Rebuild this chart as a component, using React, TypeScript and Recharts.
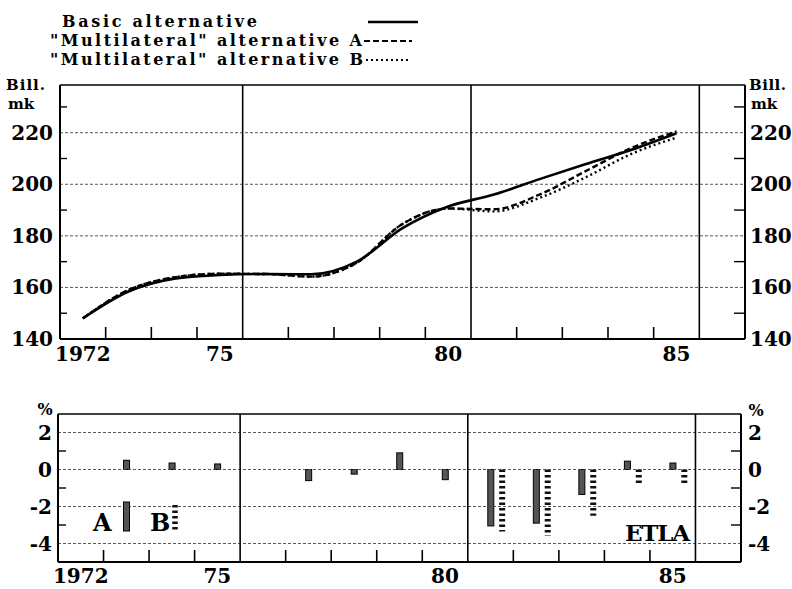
import React from 'react';
import { LineChart, Line, BarChart, Bar, XAxis, YAxis, ReferenceLine, Legend } from 'recharts';

// ---------- data ----------
const years = [1972, 1973, 1974, 1975, 1976, 1977, 1978, 1979, 1980, 1981, 1982, 1983, 1984, 1985];
const basicAlt = [148, 158.4, 163.4, 164.8, 165.2, 165.1, 170.0, 183.0, 191.4, 196.0, 202.0, 207.8, 213.3, 219.8];
const multiA = [148, 159.0, 163.9, 165.3, 165.2, 164.2, 169.6, 184.6, 190.6, 190.3, 196.0, 205.0, 214.0, 220.5];
const multiB = [148, 159.0, 163.9, 165.3, 165.2, 164.2, 169.6, 184.6, 190.6, 189.5, 194.7, 202.6, 211.7, 218.1];
const devA: (number | null)[] = [null, 0.5, 0.35, 0.3, null, -0.6, -0.25, 0.9, -0.55, -3.05, -2.9, -1.35, 0.45, 0.35];
const devB: (number | null)[] = [null, null, null, null, null, null, null, null, null, -3.35, -3.6, -2.5, -0.75, -0.75];

const seriesNames = ['Basic alternative', '"Multilateral" alternative A', '"Multilateral" alternative B'];
const xLabelYears = [1972, 1975, 1980, 1985];
const xLabelTexts = ['1972', '75', '80', '85'];
const yearBoundaries = [1972.5, 1973.5, 1974.5, 1976.5, 1977.5, 1978.5, 1979.5, 1981.5, 1982.5, 1983.5, 1984.5];
const dividers = [1975.5, 1980.5, 1985.5];
const xDomain = [1971.5, 1986.5];
const xDomainShiftB = [1971.25, 1986.25];
const levelTicks = [140, 160, 180, 200, 220];
const levelMinor = [150, 170, 190, 210, 230];
const levelGrid = [160, 180, 200, 220];
const levelDomain = [140, 238.5];
const devTicks = [-4, -2, 0, 2];
const devMinor = [-3, -1, 1];
const devGrid = [-4, -2, 0, 2];
const devDomain = [-5, 3];

const levelData = years.map((y, i) => ({ year: y, basic: basicAlt[i], a: multiA[i], b: multiB[i] }));
const devData = years.map((y, i) => ({ year: y, a: devA[i], b: devB[i] }));
const allXTicks = [...xLabelYears, ...yearBoundaries].sort((p, q) => p - q);

const FONT: React.CSSProperties = { fontFamily: '"DejaVu Serif", serif', fontWeight: 700 };

function makeXTick(labelOffset: number) {
  return (props: any) => {
    const { x, y, payload } = props;
    const idx = xLabelYears.indexOf(payload.value);
    if (idx >= 0) {
      return (
        <text x={x} y={y + labelOffset} textAnchor="middle" fontSize={20} fill="#000" style={FONT}>
          {xLabelTexts[idx]}
        </text>
      );
    }
    return <line x1={x} x2={x} y1={y} y2={y - 12} stroke="#000" strokeWidth={1.6} />;
  };
}

function makeYTick(side: 'left' | 'right', majors: number[], minorLen: number, gap: number) {
  return (props: any) => {
    const { x, y, payload } = props;
    const v = payload.value;
    if (majors.includes(v)) {
      return side === 'left' ? (
        <text x={x - gap} y={y + 7} textAnchor="end" fontSize={20} fill="#000" style={FONT}>{String(v)}</text>
      ) : (
        <text x={x + gap} y={y + 7} textAnchor="start" fontSize={20} fill="#000" style={FONT}>{String(v)}</text>
      );
    }
    return <line x1={x} x2={side === 'left' ? x + minorLen : x - minorLen} y1={y} y2={y} stroke="#000" strokeWidth={1.4} />;
  };
}

const BarAShape = (props: any) => {
  const { x, y, width, height, payload } = props;
  if (payload == null || payload.a == null) return <g />;
  const top = Math.min(y, y + height);
  return <rect x={x} y={top} width={width} height={Math.abs(height)} fill="#555" stroke="#000" strokeWidth={1} />;
};

const BarBShape = (props: any) => {
  const { x, y, width, height, payload } = props;
  if (payload == null || payload.b == null) return <g />;
  const cx = x + width / 2;
  return <line x1={cx} x2={cx} y1={y + height} y2={y} stroke="#111" strokeWidth={width} strokeDasharray="2.5 3" />;
};

const TopOverlay = () => (
  <svg width={792} height={375} style={{ position: 'absolute', left: 0, top: 0 }}>
    <g style={FONT} fill="#000">
      <text x={62} y={27} fontSize={16} textLength={195} lengthAdjust="spacing">{seriesNames[0]}</text>
      <text x={50} y={46} fontSize={16} textLength={312} lengthAdjust="spacing">{seriesNames[1]}</text>
      <text x={50} y={65} fontSize={16} textLength={313} lengthAdjust="spacing">{seriesNames[2]}</text>
      <text x={6} y={90} fontSize={15} letterSpacing={1}>Bill.</text>
      <text x={8} y={109} fontSize={15}>mk</text>
      <text x={749} y={90} fontSize={15} letterSpacing={0.5}>Bill.</text>
      <text x={751} y={109} fontSize={15}>mk</text>
    </g>
    <line x1={368} x2={418} y1={22} y2={22} stroke="#000" strokeWidth={2.5} />
    <line x1={364} x2={412} y1={41} y2={41} stroke="#000" strokeWidth={2.2} strokeDasharray="6 3" />
    <line x1={366} x2={410} y1={60} y2={60} stroke="#000" strokeWidth={2} strokeDasharray="2 3" />
  </svg>
);

const BottomOverlay = () => (
  <svg width={792} height={209} style={{ position: 'absolute', left: 0, top: 0 }}>
    <g style={FONT} fill="#000">
      <text x={45} y={35} fontSize={16} textAnchor="middle">%</text>
      <text x={756} y={36} fontSize={16} textAnchor="middle">%</text>
      <text x={93} y={151} fontSize={24}>A</text>
      <text x={150} y={151} fontSize={24}>B</text>
      <text x={625} y={161} fontSize={23} textLength={65} lengthAdjust="spacing">ETLA</text>
    </g>
    <rect x={123.5} y={122} width={6} height={29} fill="#555" stroke="#000" strokeWidth={1} />
    <line x1={175} x2={175} y1={125} y2={150} stroke="#111" strokeWidth={5.5} strokeDasharray="2.5 3" />
  </svg>
);

const gridStyle = { stroke: '#444', strokeWidth: 0.9, strokeDasharray: '3 2' };

export default function App() {
  return (
    <div style={{ position: 'absolute', left: 0, top: 0, width: 792, height: 589, background: '#fff' }}>
      <div style={{ position: 'absolute', left: 0, top: 0 }}>
        <LineChart width={792} height={375} data={levelData} margin={{ top: 85, right: 0, bottom: 6, left: 0 }}>
          <XAxis dataKey="year" type="number" domain={xDomain} ticks={allXTicks} interval={0}
            tickSize={0} tickMargin={0} height={30} axisLine={{ stroke: '#000', strokeWidth: 2 }}
            tick={makeXTick(22)} allowDataOverflow />
          <YAxis type="number" domain={levelDomain} ticks={[...levelTicks, ...levelMinor].sort((p, q) => p - q)}
            interval={0} width={60} tickSize={0} tickMargin={0} axisLine={{ stroke: '#000', strokeWidth: 2 }}
            tick={makeYTick('left', levelTicks, 7, 7)} allowDataOverflow />
          <YAxis yAxisId="r" orientation="right" type="number" domain={levelDomain}
            ticks={[...levelTicks, ...levelMinor].sort((p, q) => p - q)}
            interval={0} width={47} tickSize={0} tickMargin={0} axisLine={{ stroke: '#000', strokeWidth: 2 }}
            tick={makeYTick('right', levelTicks, 11, 5)} allowDataOverflow />
          {levelGrid.map((v) => (
            <ReferenceLine key={'g' + v} y={v} {...gridStyle} />
          ))}
          <ReferenceLine y={levelDomain[1]} stroke="#000" strokeWidth={1.4} />
          {dividers.map((d) => (
            <ReferenceLine key={'d' + d} x={d} stroke="#000" strokeWidth={1.6} />
          ))}
          <Line dataKey="b" name={seriesNames[2]} type="monotone" stroke="#000" strokeWidth={2.4}
            strokeDasharray="2 3" dot={false} isAnimationActive={false} />
          <Line dataKey="a" name={seriesNames[1]} type="monotone" stroke="#000" strokeWidth={2.4}
            strokeDasharray="6 3" dot={false} isAnimationActive={false} />
          <Line dataKey="basic" name={seriesNames[0]} type="monotone" stroke="#000" strokeWidth={2.6}
            dot={false} isAnimationActive={false} />
          <Legend layout="horizontal" verticalAlign="middle" align="center"
            wrapperStyle={{ position: 'absolute', left: 0, top: 0, width: 792, height: 375, pointerEvents: 'none' }}
            content={() => <TopOverlay />} />
        </LineChart>
      </div>
      <div style={{ position: 'absolute', left: 0, top: 380 }}>
        <BarChart width={792} height={209} data={devData} margin={{ top: 34, right: 0, bottom: 0, left: 0 }}>
          <XAxis dataKey="year" type="number" domain={xDomain} ticks={allXTicks} interval={0}
            tickSize={0} tickMargin={0} height={27} axisLine={{ stroke: '#000', strokeWidth: 2 }}
            tick={makeXTick(21)} allowDataOverflow />
          <XAxis xAxisId="shiftB" dataKey="year" type="number" domain={xDomainShiftB} hide allowDataOverflow />
          <YAxis type="number" domain={devDomain} ticks={[...devTicks, ...devMinor].sort((p, q) => p - q)}
            interval={0} width={58} tickSize={0} tickMargin={0} axisLine={{ stroke: '#000', strokeWidth: 2 }}
            tick={makeYTick('left', devTicks, 8, 6)} allowDataOverflow />
          <YAxis yAxisId="r" orientation="right" type="number" domain={devDomain}
            ticks={[...devTicks, ...devMinor].sort((p, q) => p - q)}
            interval={0} width={51} tickSize={0} tickMargin={0} axisLine={{ stroke: '#000', strokeWidth: 2 }}
            tick={makeYTick('right', devTicks, 10, 7)} allowDataOverflow />
          {devGrid.map((v) => (
            <ReferenceLine key={'g' + v} y={v} {...gridStyle} />
          ))}
          <ReferenceLine y={devDomain[1]} stroke="#000" strokeWidth={1.4} />
          {dividers.map((d) => (
            <ReferenceLine key={'d' + d} x={d} stroke="#000" strokeWidth={1.6} />
          ))}
          <Bar dataKey="a" barSize={6} shape={BarAShape} isAnimationActive={false} />
          <Bar dataKey="b" xAxisId="shiftB" barSize={6} shape={BarBShape} isAnimationActive={false} />
          <Legend layout="horizontal" verticalAlign="middle" align="center"
            wrapperStyle={{ position: 'absolute', left: 0, top: 0, width: 792, height: 209, pointerEvents: 'none' }}
            content={() => <BottomOverlay />} />
        </BarChart>
      </div>
    </div>
  );
}
